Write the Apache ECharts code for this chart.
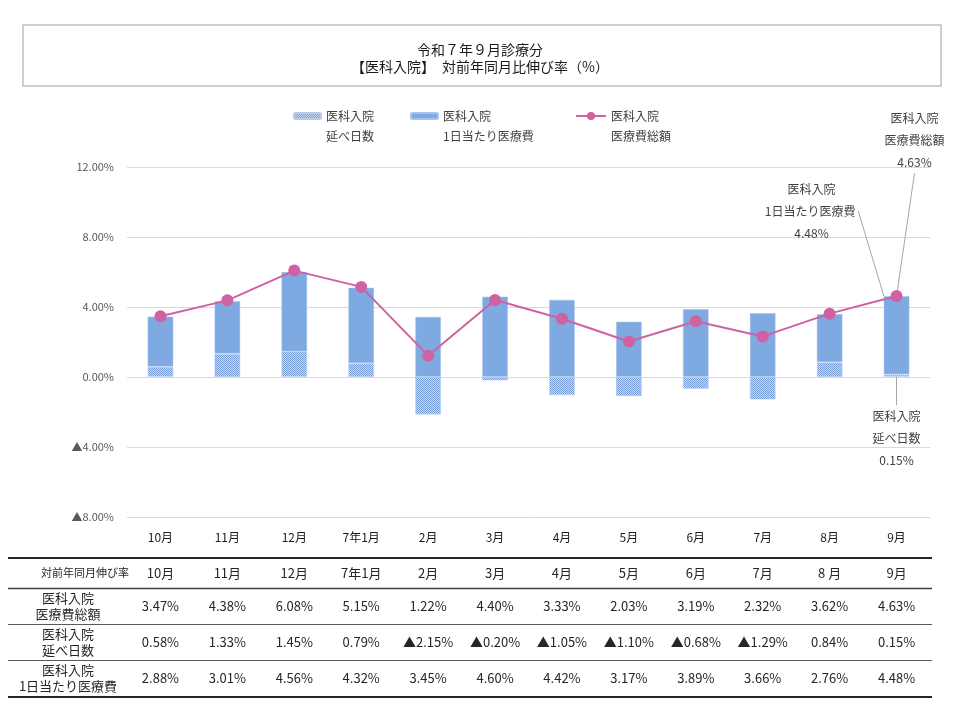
<!DOCTYPE html>
<html>
<head>
<meta charset="utf-8">
<script src="https://cdn.jsdelivr.net/npm/echarts@6/dist/echarts.min.js"></script>
<style>
html,body{margin:0;padding:0;background:#fff;}
#chart{width:960px;height:720px;}
</style>
</head>
<body>
<div id="chart"></div>
<script>
// ---- data ----
const categories = ['10月','11月','12月','7年1月','2月','3月','4月','5月','6月','7月','8月','9月'];
const headerLabels = ['10月','11月','12月','7年1月','2月','3月','4月','5月','6月','7月','8 月','9月'];
const totalCost = [3.47,4.38,6.08,5.15,1.22,4.40,3.33,2.03,3.19,2.32,3.62,4.63];
const days = [0.58,1.33,1.45,0.79,-2.15,-0.20,-1.05,-1.10,-0.68,-1.29,0.84,0.15];
const perDay = [2.88,3.01,4.56,4.32,3.45,4.60,4.42,3.17,3.89,3.66,2.76,4.48];
const yTicks = {min:-8, max:12, interval:4};

const nameDays = '医科入院 延べ日数';
const namePerDay = '医科入院 1日当たり医療費';
const nameTotal = '医科入院 医療費総額';

const FONT = '"Noto Sans CJK JP", "Noto Sans", sans-serif';
function fmt(v){ return v < 0 ? '▲' + Math.abs(v).toFixed(2) + '%' : v.toFixed(2) + '%'; }

// pattern for 延べ日数
const pc = document.createElement('canvas');
pc.width = 4; pc.height = 4;
const pctx = pc.getContext('2d');
pctx.fillStyle = '#C6D7F1'; pctx.fillRect(0,0,4,4);
pctx.fillStyle = '#789FDC';
for (let y=0;y<4;y++) for (let x=0;x<4;x++) if ((x+y)%2===0) pctx.fillRect(x,y,1,1);
const patternColor = {image: pc, repeat: 'repeat'};

const barColor = '#7EA9E1';
const lineColor = '#CF62A1';
const lastIdx = categories.length - 1;

const annoLabel = {
  fontFamily: FONT, fontSize: 12, lineHeight: 22, color: '#404040', align: 'center'
};
const annoLine = {show: true, lineStyle: {color: '#A6A6A6', width: 1}};

const chart = echarts.init(document.getElementById('chart'));

const tableRowAxis = (offset, arr, f) => ({
  type: 'category', gridIndex: 0, position: 'bottom', offset: offset,
  data: categories,
  axisLine: {show: false}, axisTick: {show: false}, splitLine: {show: false},
  axisLabel: {
    interval: 0, margin: 8, fontFamily: FONT, fontSize: 13, color: '#262626',
    formatter: (v, i) => f(arr[i])
  }
});

const legendText = {fontFamily: FONT, fontSize: 12, lineHeight: 20, color: '#404040'};
const legendFmt = n => '\n' + n.replace(' ', '\n');

const option = {
  backgroundColor: '#fff',
  animation: false,
  title: {
    text: '令和７年９月診療分\n【医科入院】　対前年同月比伸び率（%）',
    left: 'center', top: 36,
    textStyle: {fontFamily: FONT, fontSize: 14, fontWeight: 'normal', lineHeight: 17, color: '#1a1a1a'}
  },
  legend: [
    {data: [nameDays], left: 293, top: 86, padding: 0, itemWidth: 27, itemHeight: 6,
     formatter: legendFmt, textStyle: legendText},
    {data: [namePerDay], left: 410, top: 86, padding: 0, itemWidth: 27, itemHeight: 6,
     formatter: legendFmt, textStyle: legendText},
    {data: [nameTotal], left: 575, top: 86, padding: 0, itemWidth: 30, itemHeight: 10,
     formatter: legendFmt, textStyle: legendText}
  ],
  grid: {left: 127, right: 30, top: 167, bottom: 203},
  xAxis: [
    {
      type: 'category', data: categories, gridIndex: 0, position: 'bottom',
      axisLine: {show: false}, axisTick: {show: false},
      axisLabel: {interval: 0, margin: 14, fontFamily: FONT, fontSize: 12, color: '#1a1a1a'}
    },
    tableRowAxis(42, headerLabels, v => v),
    tableRowAxis(75, totalCost, fmt),
    tableRowAxis(111, days, fmt),
    tableRowAxis(147, perDay, fmt)
  ],
  yAxis: {
    type: 'value', min: yTicks.min, max: yTicks.max, interval: yTicks.interval,
    axisLine: {show: false}, axisTick: {show: false},
    splitLine: {lineStyle: {color: '#D9D9D9', width: 1}},
    axisLabel: {margin: 13, fontFamily: FONT, fontSize: 11, color: '#595959', formatter: fmt}
  },
  series: [
    {
      name: nameDays, type: 'bar', stack: 'cost', xAxisIndex: 0, barWidth: 26,
      itemStyle: {color: patternColor, borderColor: '#B7CBEC', borderWidth: 1, borderType: 'dotted'},
      data: days.map((v, i) => i === lastIdx ? {
        value: v,
        label: {show: true, position: 'bottom', distance: 5, ...annoLabel,
                formatter: p => '医科入院\n延べ日数\n' + fmt(p.value)}
      } : v),
      labelLayout: {dx: 0, dy: 23},
      labelLine: annoLine
    },
    {
      name: namePerDay, type: 'bar', stack: 'cost', xAxisIndex: 0, barWidth: 26,
      itemStyle: {color: barColor, borderColor: '#A9C4EA', borderWidth: 1, borderType: 'dotted'},
      data: perDay.map((v, i) => i === lastIdx ? {
        value: v,
        label: {show: true, position: 'top', distance: 5, ...annoLabel,
                formatter: p => '医科入院\n1日当たり医療費 \n' + fmt(p.value)}
      } : v),
      labelLayout: {dx: -85, dy: -47},
      labelLine: annoLine
    },
    {
      name: nameTotal, type: 'line', xAxisIndex: 0, z: 5,
      symbol: 'circle', symbolSize: 12,
      lineStyle: {color: lineColor, width: 2},
      itemStyle: {color: lineColor},
      data: totalCost.map((v, i) => i === lastIdx ? {
        value: v,
        label: {show: true, position: 'top', distance: 5, ...annoLabel,
                formatter: p => '医科入院\n医療費総額\n' + fmt(p.value)}
      } : v),
      labelLayout: {dx: 18, dy: -112},
      labelLine: annoLine
    }
  ],
  graphic: [
    {type: 'rect', shape: {x: 23, y: 25, width: 918, height: 61}, silent: true,
     style: {fill: 'none', stroke: '#BFBFBF', lineWidth: 1.5}},
    {type: 'line', shape: {x1: 8, y1: 558, x2: 932, y2: 558}, style: {stroke: '#262626', lineWidth: 2}},
    {type: 'line', shape: {x1: 8, y1: 588.5, x2: 932, y2: 588.5}, style: {stroke: '#404040', lineWidth: 1.5}},
    {type: 'line', shape: {x1: 8, y1: 624.5, x2: 932, y2: 624.5}, style: {stroke: '#595959', lineWidth: 1}},
    {type: 'line', shape: {x1: 8, y1: 660.5, x2: 932, y2: 660.5}, style: {stroke: '#595959', lineWidth: 1}},
    {type: 'line', shape: {x1: 8, y1: 697, x2: 932, y2: 697}, style: {stroke: '#262626', lineWidth: 2}},
    {type: 'text', x: 85, y: 573, style: {text: '対前年同月伸び率', fontFamily: FONT, fontSize: 11, fill: '#262626', align: 'center', verticalAlign: 'middle'}},
    {type: 'text', x: 68, y: 606, style: {text: '医科入院\n医療費総額', fontFamily: FONT, fontSize: 13, lineHeight: 16, fill: '#262626', align: 'center', verticalAlign: 'middle'}},
    {type: 'text', x: 68, y: 642, style: {text: '医科入院\n延べ日数', fontFamily: FONT, fontSize: 13, lineHeight: 16, fill: '#262626', align: 'center', verticalAlign: 'middle'}},
    {type: 'text', x: 68, y: 678, style: {text: '医科入院\n1日当たり医療費', fontFamily: FONT, fontSize: 13, lineHeight: 16, fill: '#262626', align: 'center', verticalAlign: 'middle'}}
  ]
};
chart.setOption(option);
</script>
</body>
</html>
